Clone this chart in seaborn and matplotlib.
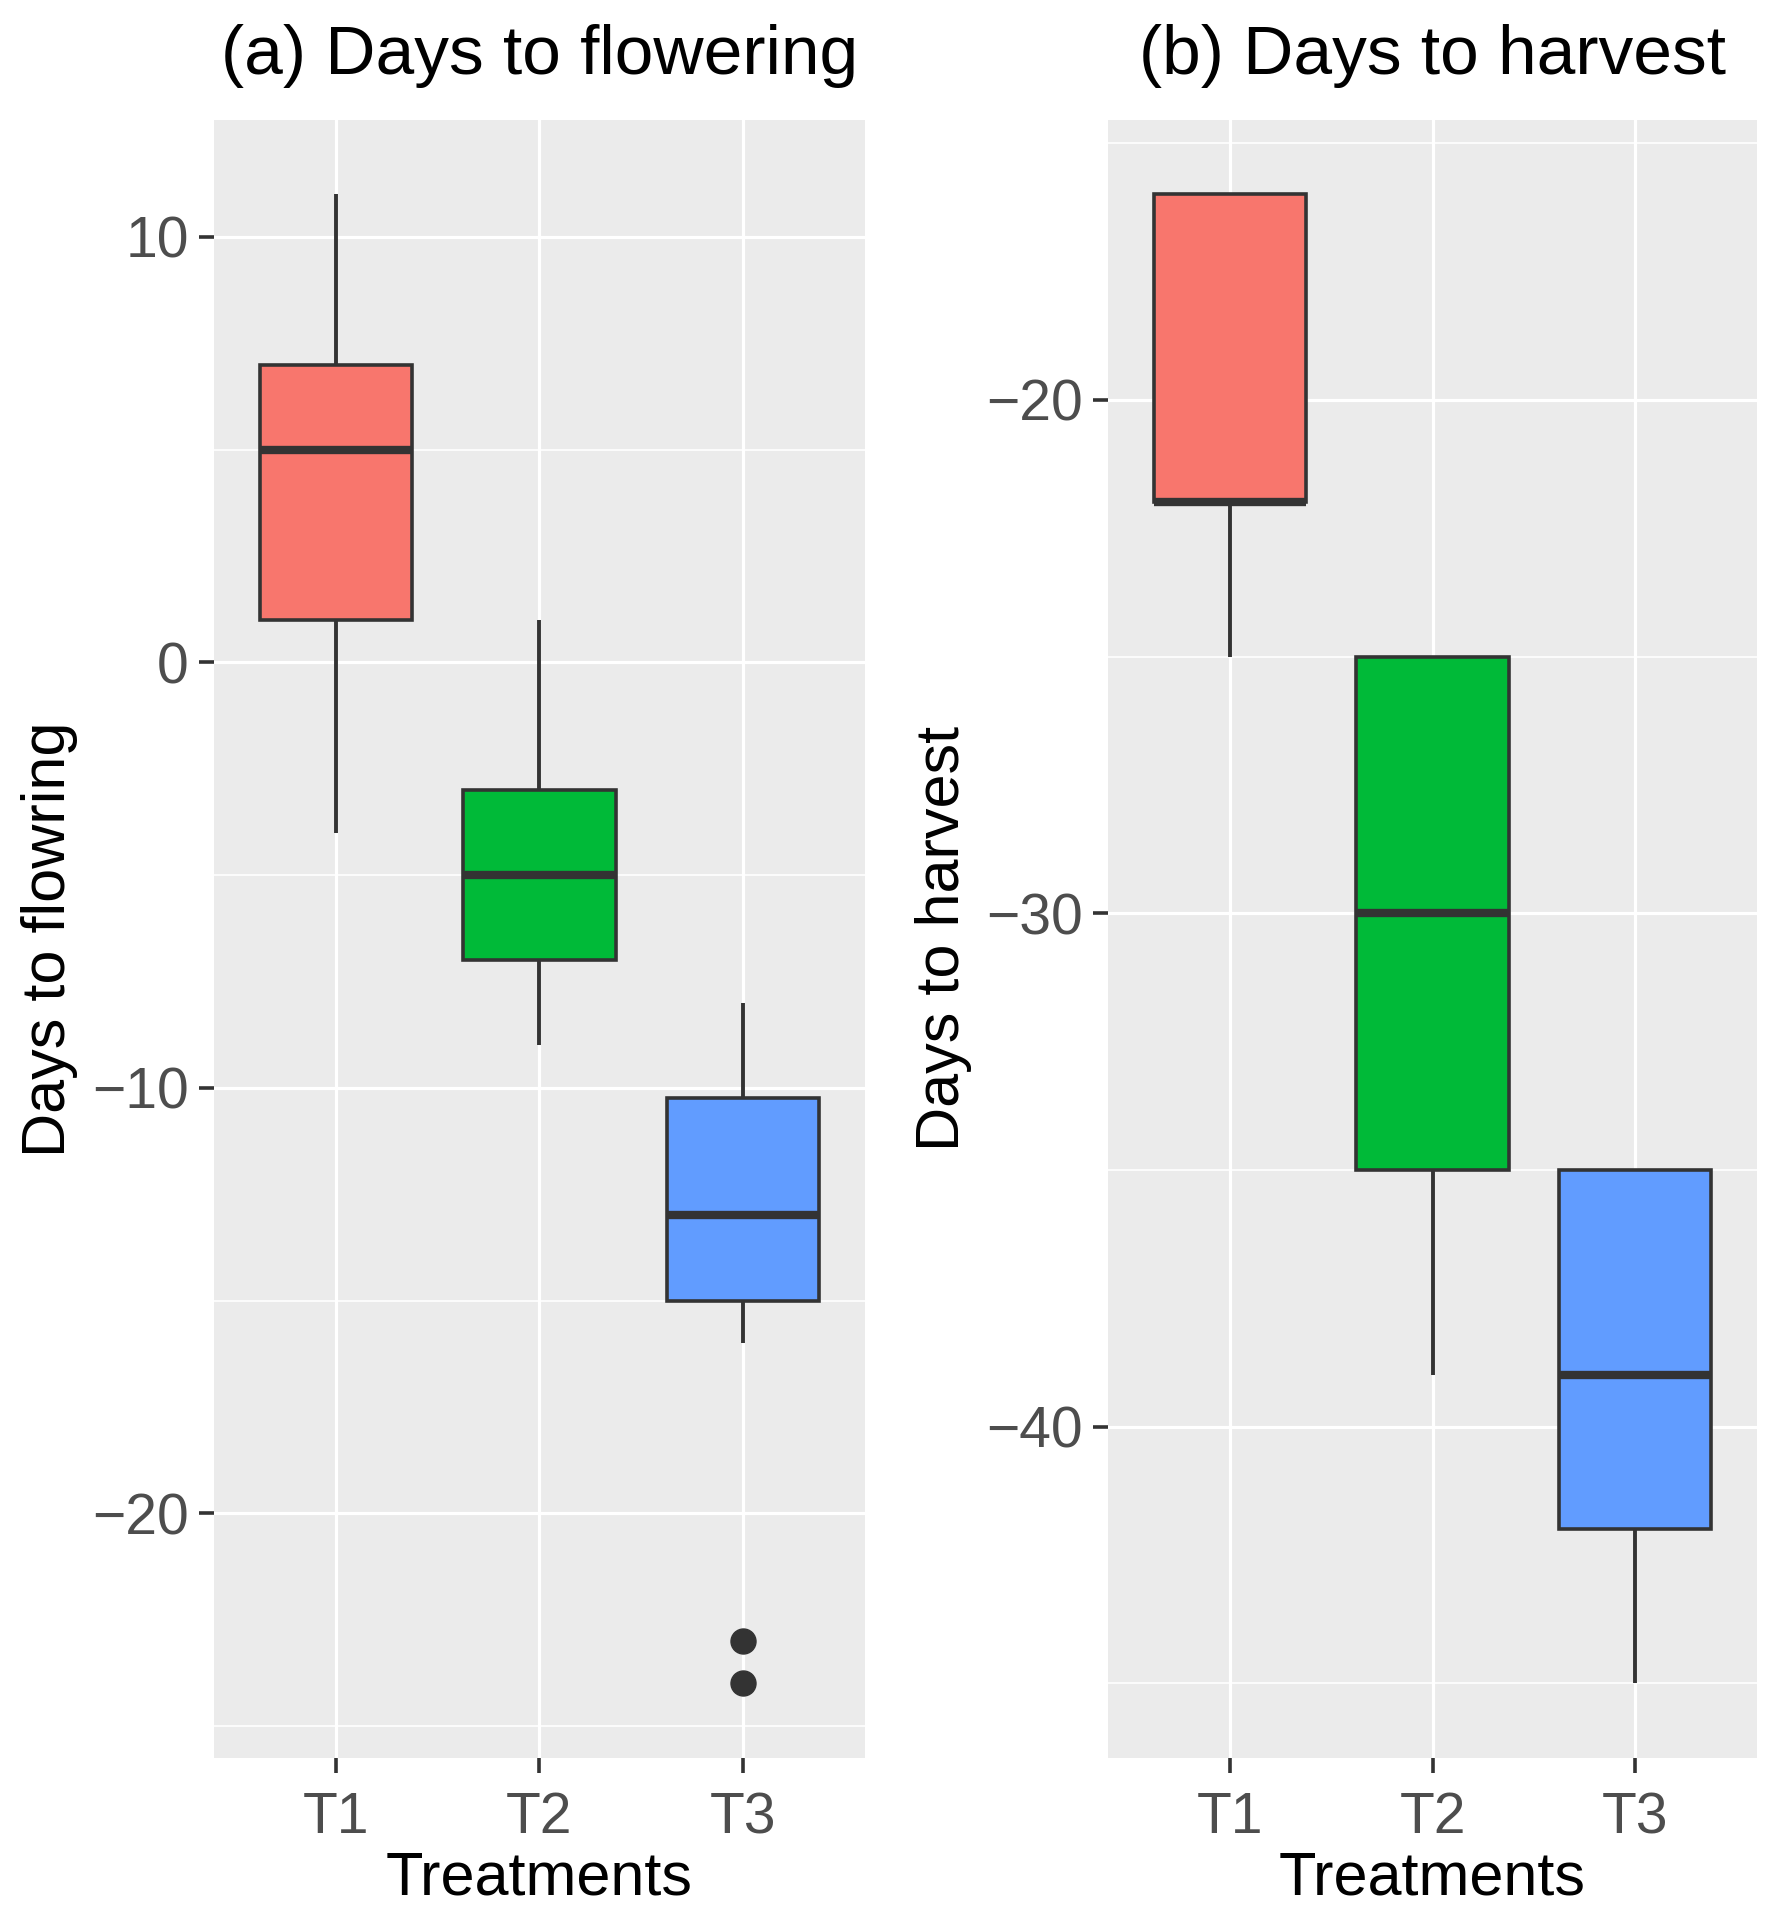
import numpy as np
import pandas as pd
import matplotlib
matplotlib.use("Agg")
import matplotlib.pyplot as plt
from matplotlib.ticker import MultipleLocator
import seaborn as sns

# ---------------- data ----------------
treatments = ["T1", "T2", "T3"]
colors = ["#F8766D", "#00BA38", "#619CFF"]

# Days to flowering (per-treatment observations reproducing the boxes)
flower_T1 = [-4, 0, 1, 3, 5, 6, 7, 9, 11]
flower_T2 = [-9, -8, -7, -6, -5, -4, -3, -1, 1]
flower_T3 = [-24, -23, -16, -15, -14, -13.5, -13, -12, -11, -10.25, -9, -8.5, -8]

# Days to harvest
harvest_T1 = [-25, -23, -22, -22, -22, -20, -16, -16, -16]
harvest_T2 = [-39, -37, -35, -32, -30, -28, -25, -25, -25]
harvest_T3 = [-45, -44, -42, -40, -39, -37, -35, -35, -35]

titles = ["(a) Days to flowering", "(b) Days to harvest"]
ylabels = ["Days to flowring", "Days to harvest"]
xlabel = "Treatments"


def make_df(groups):
    rows = []
    for t, vals in zip(treatments, groups):
        for v in vals:
            rows.append((t, v))
    return pd.DataFrame(rows, columns=["Treatment", "value"])


df_flower = make_df([flower_T1, flower_T2, flower_T3])
df_harvest = make_df([harvest_T1, harvest_T2, harvest_T3])

# ---------------- style ----------------
sns.set_theme(style="darkgrid", rc={
    "axes.facecolor": "#EBEBEB",
    "grid.color": "white",
    "figure.facecolor": "white",
})
plt.rcParams["font.family"] = ["Liberation Sans", "DejaVu Sans"]

fig = plt.figure(figsize=(17.8, 19.28), dpi=100)
ax1 = fig.add_axes([0.1202, 0.0882, 0.3657, 0.8496])
ax2 = fig.add_axes([0.6225, 0.0882, 0.3646, 0.8496])

line_c = "#333333"
palette = dict(zip(treatments, colors))

for ax, df, title, ylab, major in [
    (ax1, df_flower, titles[0], ylabels[0], 10),
    (ax2, df_harvest, titles[1], ylabels[1], 10),
]:
    sns.boxplot(
        data=df, x="Treatment", y="value", hue="Treatment",
        order=treatments, hue_order=treatments, palette=palette,
        saturation=1, width=0.75, dodge=False, legend=False,
        linewidth=2.6, linecolor=line_c, showcaps=False, whis=1.5,
        medianprops=dict(color=line_c, linewidth=6),
        whiskerprops=dict(color=line_c, linewidth=2.8),
        flierprops=dict(marker="o", markerfacecolor=line_c,
                        markeredgecolor=line_c, markersize=18),
        ax=ax,
    )
    lo, hi = df["value"].min(), df["value"].max()
    pad = 0.05 * (hi - lo)
    ax.set_ylim(lo - pad, hi + pad)
    ax.set_xlim(-0.6, 2.6)
    ax.yaxis.set_major_locator(MultipleLocator(major))
    ax.yaxis.set_minor_locator(MultipleLocator(major / 2))
    ax.grid(which="major", color="white", linewidth=2.3)
    ax.grid(which="minor", axis="y", color="white", linewidth=1.2)
    ax.set_axisbelow(True)
    for s in ax.spines.values():
        s.set_visible(False)
    ax.tick_params(axis="both", which="major", length=11, width=2.6,
                   color=line_c, labelcolor="#4D4D4D", labelsize=41,
                   bottom=True, left=True)
    ax.tick_params(axis="y", which="major", pad=7)
    ax.tick_params(axis="x", which="major", pad=13)
    ax.tick_params(axis="both", which="minor", length=0)
    ax.set_title(title, fontsize=50, color="black", pad=33)
    ax.set_ylabel(ylab, fontsize=44, color="black", labelpad=10)
    ax.set_xlabel(xlabel, fontsize=44, color="black", labelpad=4)

fig.savefig("out.png", dpi=100)
